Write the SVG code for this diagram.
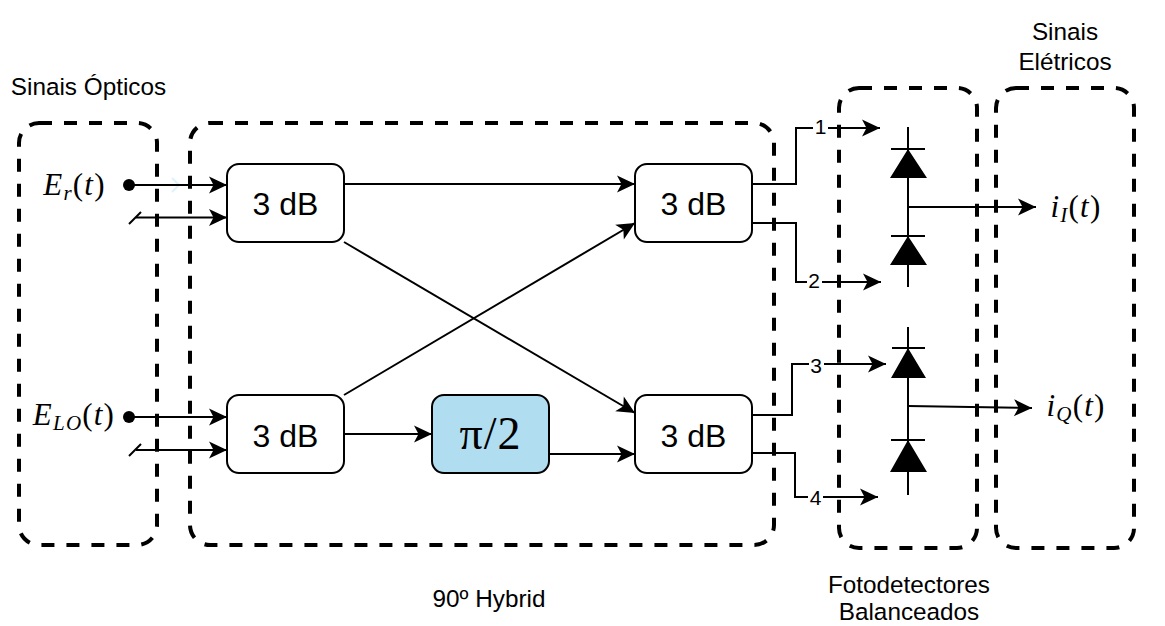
<svg xmlns="http://www.w3.org/2000/svg" width="1165" height="626" viewBox="0 0 1165 626">
<style>
text{font-family:"Liberation Sans",Arial,sans-serif;fill:#000}
.group{fill:none;stroke:#000;stroke-width:4;stroke-dasharray:13 12}
.box{fill:#fff;stroke:#000;stroke-width:2}
.big{font-size:32px;text-anchor:middle}
.cap{font-size:24.3px;text-anchor:middle}
.num{font-size:21px;text-anchor:middle}
.math{font-family:"Liberation Serif","Times New Roman",serif;font-size:31px;text-anchor:middle;letter-spacing:1.2px}
.math .i{font-style:italic}
.math .s{font-style:italic;font-size:21px}
.wire{fill:none;stroke:#000;stroke-width:2}
.arr{marker-end:url(#a)}
.lb{fill:#fff}
</style>
<defs>
<marker id="a" markerUnits="userSpaceOnUse" markerWidth="20" markerHeight="20" refX="18" refY="9" orient="auto" overflow="visible">
<path d="M0 0.500 L18 9 L0 17.500 L4.500 9 Z" fill="#000"/>
</marker>
</defs>

<g id="groups">
<rect id="optical-group" class="group" x="19" y="123" width="138" height="422" rx="20"/>
<rect id="hybrid-group" class="group" x="190" y="123" width="584" height="422" rx="20"/>
<rect id="detector-group" class="group" x="839" y="88" width="138" height="460" rx="20"/>
<rect id="electrical-group" class="group" x="996" y="88" width="138" height="460" rx="20"/>
</g>

<g id="connectors">
<path d="M164 185 H172 L179 185 L172 192 M172 178 L179 185" fill="none" stroke="#d6effa" stroke-width="2" opacity=".8"/>
<path class="wire arr" d="M129 185 H227"/>
<path class="wire arr" d="M136 217.500 H227"/>
<path class="wire" d="M129 224 L141 212"/>
<path class="wire arr" d="M129 417 H227"/>
<path class="wire arr" d="M136 450 H227"/>
<path class="wire" d="M129 456 L141 444"/>
<path class="wire arr" d="M344 184 H635"/>
<path class="wire arr" d="M344 242 L635 413"/>
<path class="wire arr" d="M344 395 L635 223"/>
<path class="wire arr" d="M344 434 H432"/>
<path class="wire arr" d="M549 454 H635"/>
<path class="wire arr" d="M752 184 H796 V128 H880"/>
<path class="wire arr" d="M752 223 H796 V282 H881"/>
<path class="wire arr" d="M752 415 H792 V364 H886"/>
<path class="wire arr" d="M752 453 H795 V497 H878"/>
<path class="wire arr" d="M908 207 H1036"/>
<path class="wire arr" d="M908 406 L1032 408"/>
<circle cx="129" cy="185" r="6"/>
<circle cx="129" cy="417" r="6"/>
</g>

<g id="port-1"><rect class="lb" x="813" y="117" width="15" height="22"/><text class="num" x="820.500" y="134">1</text></g>
<g id="port-2"><rect class="lb" x="807" y="271" width="15" height="22"/><text class="num" x="814" y="288">2</text></g>
<g id="port-3"><rect class="lb" x="809" y="354" width="15" height="22"/><text class="num" x="816" y="373">3</text></g>
<g id="port-4"><rect class="lb" x="808" y="486" width="15" height="22"/><text class="num" x="815.500" y="505">4</text></g>

<g id="hybrid-tl"><rect class="box" x="227" y="164" width="117" height="78" rx="12"/><text class="big" x="285.500" y="215">3 dB</text></g>
<g id="hybrid-tr"><rect class="box" x="635" y="164" width="117" height="78" rx="12"/><text class="big" x="693.500" y="215">3 dB</text></g>
<g id="hybrid-bl"><rect class="box" x="227" y="395" width="117" height="78" rx="12"/><text class="big" x="285.500" y="447">3 dB</text></g>
<g id="hybrid-br"><rect class="box" x="635" y="395" width="117" height="78" rx="12"/><text class="big" x="693.500" y="447">3 dB</text></g>
<g id="phase"><rect class="box" x="432" y="395" width="117" height="78" rx="12" style="fill:#b1ddf0"/><text x="490.500" y="449" style="font-family:'Liberation Serif',serif;font-size:46px;text-anchor:middle;letter-spacing:1px">π/2</text></g>

<g id="detector-i" fill="#000" stroke="#000">
<path d="M908 127 V287" stroke-width="2" fill="none"/>
<path d="M891 149 H925 M891 236 H925" stroke-width="2" fill="none"/>
<path d="M908 149 L927 178 H890 Z M908 236 L927 265 H890 Z" stroke="none"/>
</g>
<g id="detector-q" fill="#000" stroke="#000">
<path d="M908 327 V495" stroke-width="2" fill="none"/>
<path d="M892 348 H925 M891 440 H925" stroke-width="2" fill="none"/>
<path d="M908 348 L926 378 H891 Z M908 440 L927 472 H890 Z" stroke="none"/>
</g>

<g id="label-er"><text class="math" x="74.500" y="195"><tspan class="i">E</tspan><tspan class="s" dy="5">r</tspan><tspan dy="-5">(</tspan><tspan class="i">t</tspan>)</text></g>
<g id="label-elo"><text class="math" x="74" y="425"><tspan class="i">E</tspan><tspan class="s" dy="5">LO</tspan><tspan dy="-5">(</tspan><tspan class="i">t</tspan>)</text></g>
<g id="label-ii"><text class="math" x="1076" y="217"><tspan class="i">i</tspan><tspan class="s" dy="5">I</tspan><tspan dy="-5">(</tspan><tspan class="i">t</tspan>)</text></g>
<g id="label-iq"><text class="math" x="1076" y="416"><tspan class="i">i</tspan><tspan class="s" dy="5">Q</tspan><tspan dy="-5">(</tspan><tspan class="i">t</tspan>)</text></g>

<g id="captions">
<text class="cap" x="88.500" y="95">Sinais Ópticos</text>
<text class="cap" x="1065" y="40">Sinais</text>
<text class="cap" x="1065" y="70">Elétricos</text>
<text class="cap" x="489" y="607">90º Hybrid</text>
<text class="cap" x="909" y="593">Fotodetectores</text>
<text class="cap" x="909" y="620">Balanceados</text>
</g>
</svg>
